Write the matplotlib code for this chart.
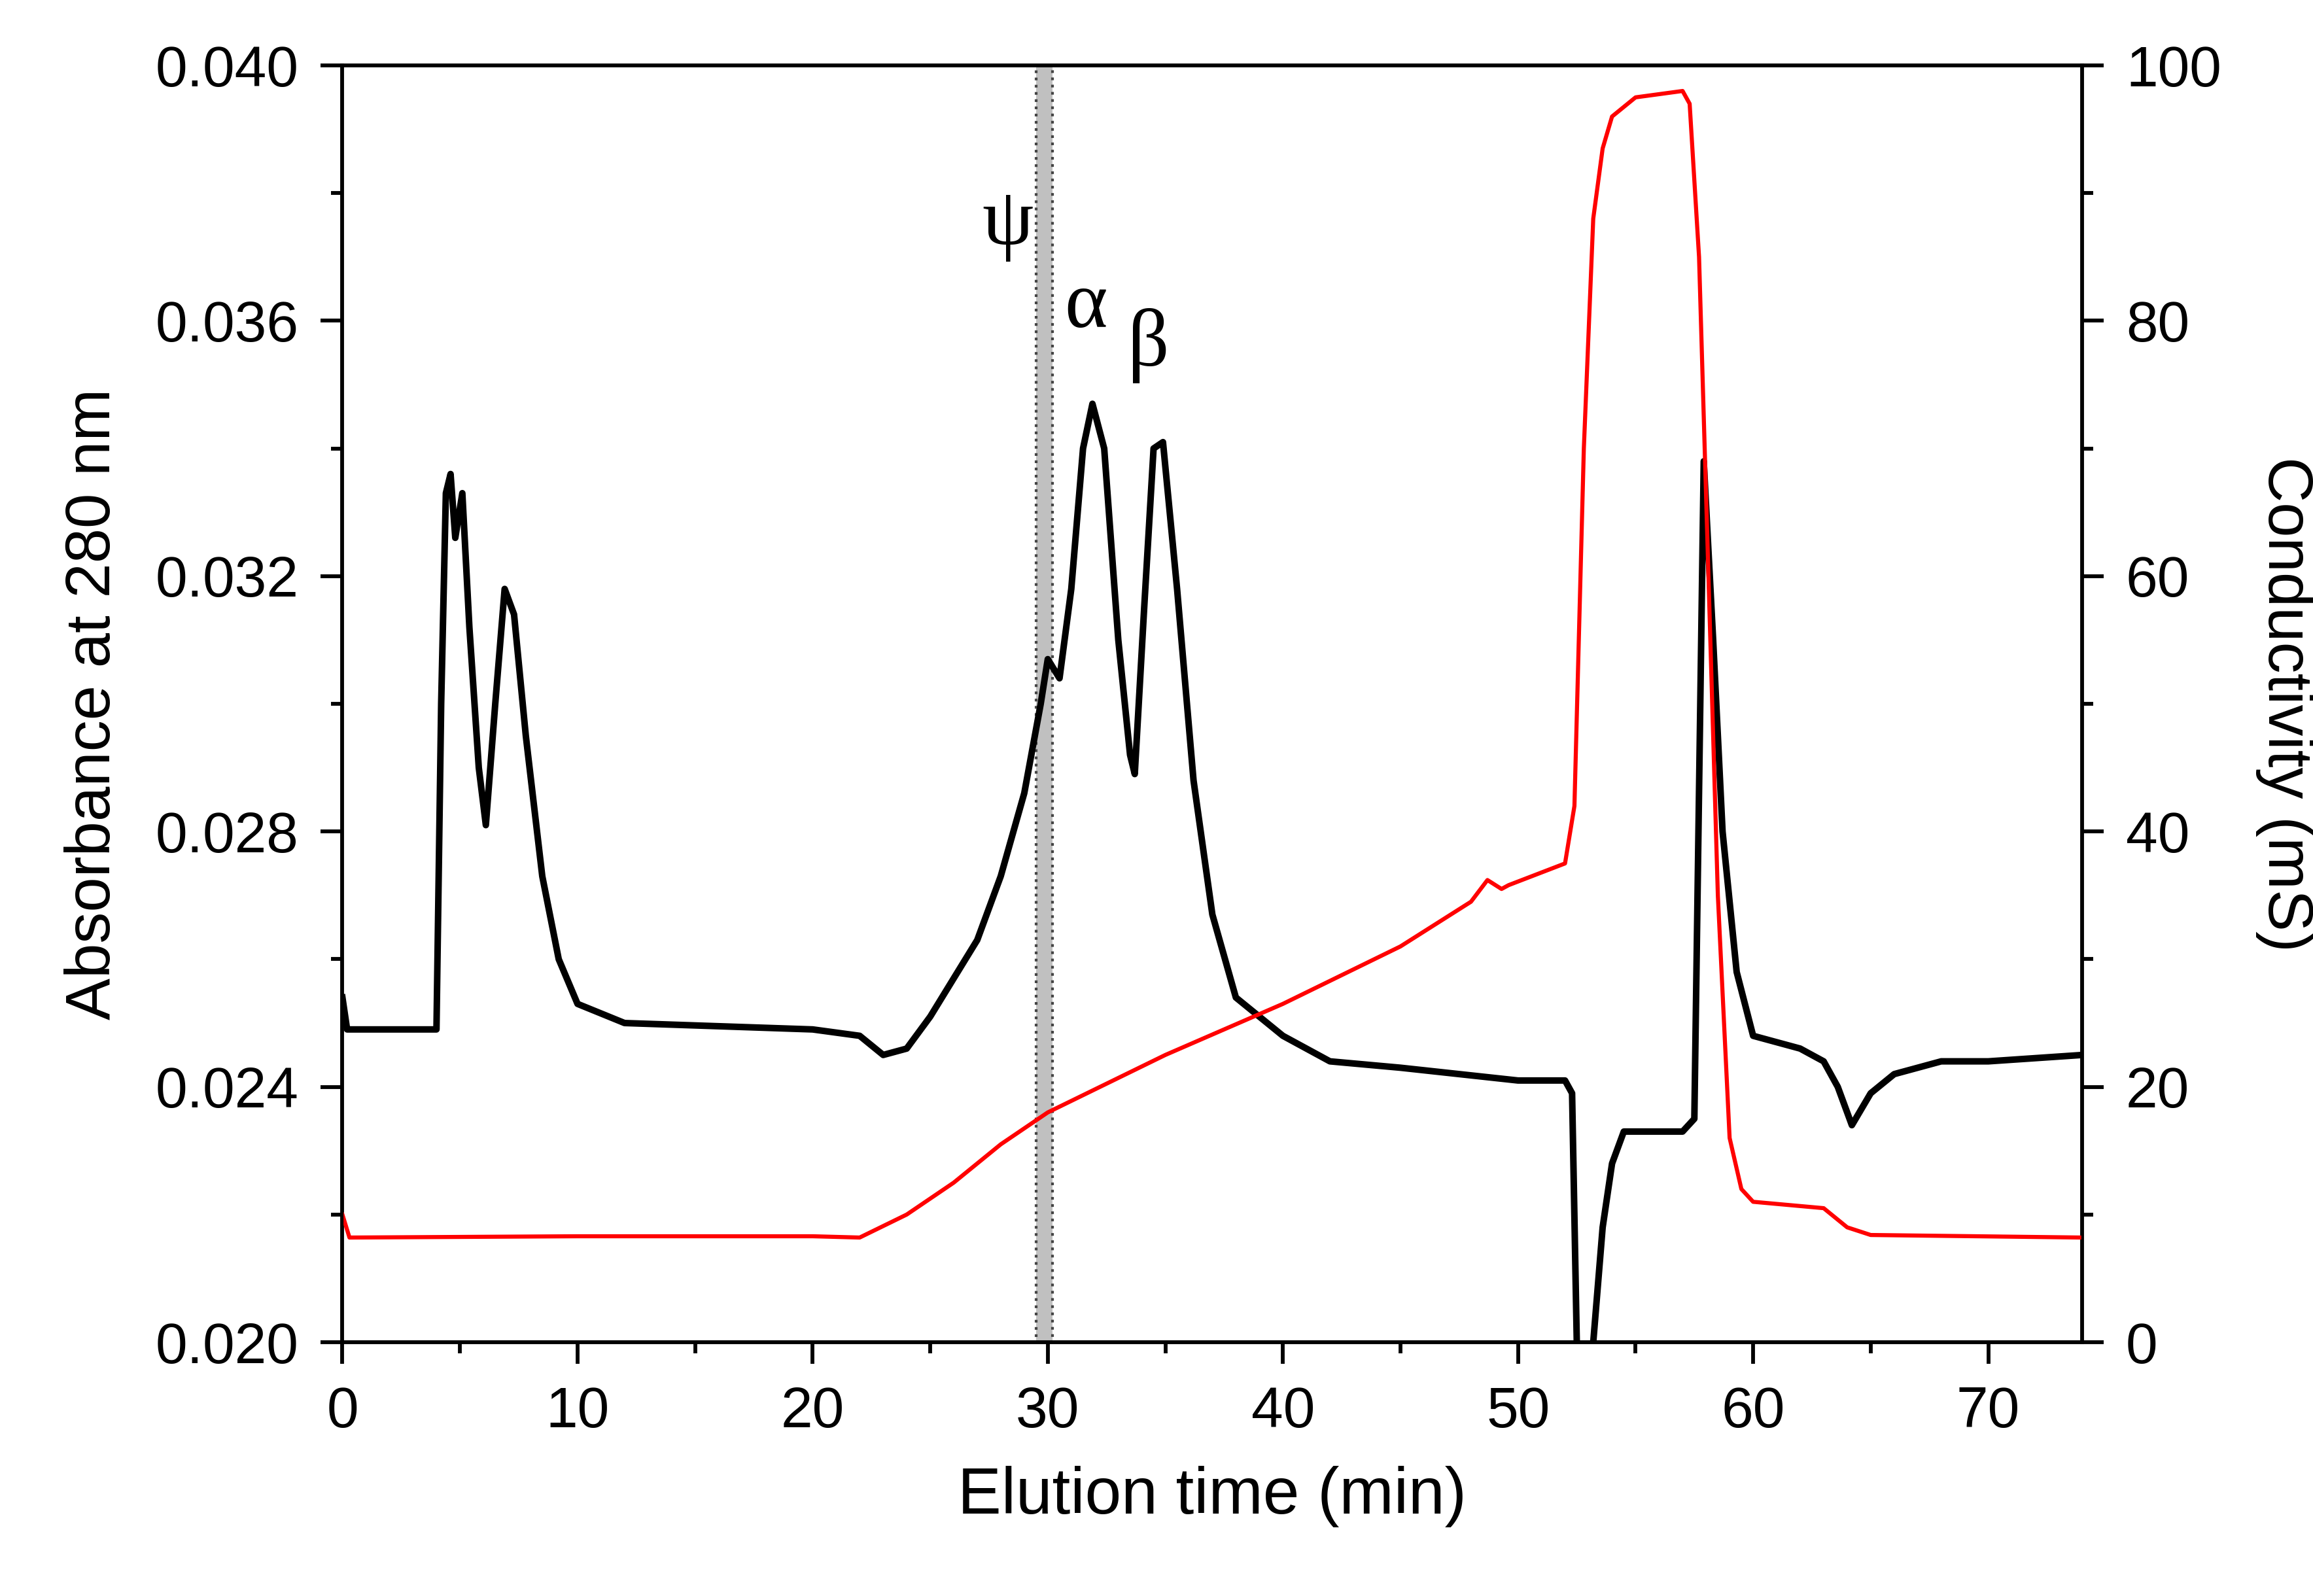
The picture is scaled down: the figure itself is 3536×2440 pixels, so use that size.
import matplotlib
matplotlib.use("Agg")
import matplotlib.pyplot as plt
from matplotlib.ticker import MultipleLocator

plt.rcParams['font.family'] = ['Liberation Sans', 'DejaVu Sans']

# absorbance trace (black)
abs_time = [0, 0.2, 4, 4.2, 4.4, 4.6, 4.8, 5.1, 5.4, 5.8, 6.1, 6.5, 6.9, 7.3, 7.8, 8.5, 9.2,
            10, 12, 20, 22, 23, 24, 25, 26, 27, 28, 29, 29.7, 30, 30.5, 31, 31.5, 31.9,
            32.4, 33, 33.5, 33.7, 34.1, 34.5, 34.9, 35.5, 36.2, 37, 38, 40, 42, 45, 50, 52,
            52.3, 52.5, 52.8, 53.2, 53.6, 54, 54.5, 57, 57.5, 57.9, 58.3, 58.7, 59.3, 60,
            62, 63, 63.6, 64.2, 65, 66, 68, 70, 74]
abs_val = [0.0254, 0.0249, 0.0249, 0.0300, 0.0333, 0.0336, 0.0326, 0.0333, 0.0312, 0.0290,
           0.0281, 0.0300, 0.0318, 0.0314, 0.0295, 0.0273, 0.0260, 0.0253, 0.0250, 0.0249,
           0.0248, 0.0245, 0.0246, 0.0251, 0.0257, 0.0263, 0.0273, 0.0286, 0.0300, 0.0307,
           0.0304, 0.0318, 0.0340, 0.0347, 0.0340, 0.0310, 0.0292, 0.0289, 0.0315, 0.0340,
           0.0341, 0.0318, 0.0288, 0.0267, 0.0254, 0.0248, 0.0244, 0.0243, 0.0241, 0.0241,
           0.0239, 0.0200, 0.0185, 0.0200, 0.0218, 0.0228, 0.0233, 0.0233, 0.0235, 0.0338,
           0.0310, 0.0280, 0.0258, 0.0248, 0.0246, 0.0244, 0.0240, 0.0234, 0.0239, 0.0242,
           0.0244, 0.0244, 0.0245]

# conductivity trace (red)
cond_time = [0, 0.3, 10, 20, 22, 24, 26, 28, 30, 35, 40, 45, 48, 48.7, 49.3, 49.6, 52,
             52.4, 52.8, 53.2, 53.6, 54, 55, 57, 57.3, 57.7, 58.1, 58.5, 59, 59.5, 60, 63,
             64, 65, 74]
cond_val = [10, 8.2, 8.3, 8.3, 8.2, 10, 12.5, 15.5, 18, 22.5, 26.5, 31, 34.5, 36.2, 35.5,
            35.8, 37.5, 42, 70, 88, 93.5, 96, 97.5, 98, 97, 85, 60, 35, 16, 12, 11, 10.5, 9,
            8.4, 8.2]

band = (29.5, 30.2)
labels = [("ψ", 27.2, 0.0372), ("α", 30.7, 0.0359), ("β", 33.4, 0.0353)]

fig = plt.figure(figsize=(3537 / 300, 2440 / 300), dpi=300)
ax = fig.add_axes([0.148, 0.159, 0.752, 0.800])
ax2 = ax.twinx()

ax.axvspan(band[0], band[1], facecolor='#c0c0c0', edgecolor='#444444', linestyle=':', linewidth=1)
ax.plot(abs_time, abs_val, color='black', lw=2.4, zorder=3)
ax2.plot(cond_time, cond_val, color='red', lw=1.5)

for txt, x, y in labels:
    ax.text(x, y, txt, fontsize=30, family=['Liberation Serif', 'DejaVu Serif'])

ax.set_xlim(0, 74)
ax.set_ylim(0.020, 0.040)
ax2.set_ylim(0, 100)
ax.xaxis.set_major_locator(MultipleLocator(10))
ax.xaxis.set_minor_locator(MultipleLocator(5))
ax.yaxis.set_major_locator(MultipleLocator(0.004))
ax.yaxis.set_minor_locator(MultipleLocator(0.002))
ax2.yaxis.set_major_locator(MultipleLocator(20))
ax2.yaxis.set_minor_locator(MultipleLocator(10))
ax.yaxis.set_major_formatter(plt.FormatStrFormatter('%.3f'))

for a in (ax, ax2):
    a.tick_params(which='major', direction='out', length=8, width=1.4, labelsize=21, pad=8)
    a.tick_params(which='minor', direction='out', length=4, width=1.4)
for s in ax.spines.values():
    s.set_linewidth(1.4)

ax.set_xlabel("Elution time (min)", fontsize=24, labelpad=10)
ax.set_ylabel("Absorbance at 280 nm", fontsize=23, labelpad=12)
ax2.set_ylabel("Conductivity (mS)", fontsize=23, rotation=270, labelpad=34)

fig.savefig("out.png", dpi=300)
